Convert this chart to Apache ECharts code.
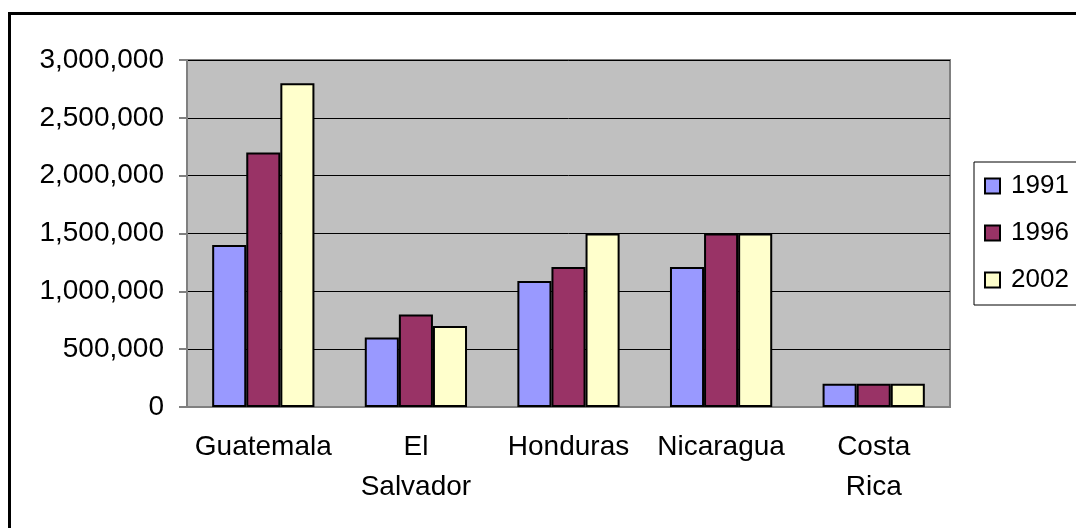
<!DOCTYPE html>
<html>
<head>
<meta charset="utf-8">
<script src="https://cdn.jsdelivr.net/npm/echarts@6/dist/echarts.min.js"></script>
<style>
  html, body { margin: 0; padding: 0; background: #fff; }
  #chart { width: 1076px; height: 528px; }
</style>
</head>
<body>
<div id="chart"></div>
<script>
const countries = ["Guatemala", "El\nSalvador", "Honduras", "Nicaragua", "Costa\nRica"];
const years = ["1991", "1996", "2002"];
const values1991 = [1400000, 600000, 1090000, 1210000, 200000];
const values1996 = [2200000, 800000, 1210000, 1500000, 200000];
const values2002 = [2800000, 700000, 1500000, 1500000, 200000];
const colors = ["#9999ff", "#993366", "#ffffcc"];

const font = "'Liberation Sans', Arial, sans-serif";
const chart = echarts.init(document.getElementById("chart"));

const makeSeries = (name, data, color) => ({
  name: name,
  type: "bar",
  data: data,
  barGap: "0%",
  barCategoryGap: "33%",
  itemStyle: { color: color, borderColor: "#000", borderWidth: 2 }
});

chart.setOption({
  animation: false,
  textStyle: { fontFamily: font, color: "#000" },
  graphic: [{
    type: "rect",
    shape: { x: 9.5, y: 13.5, width: 1200, height: 600 },
    style: { fill: "none", stroke: "#000", lineWidth: 3 },
    silent: true
  }],
  grid: {
    left: 187, right: 126, top: 60, bottom: 121,
    show: true, backgroundColor: "#c0c0c0", borderColor: "#808080", borderWidth: 2
  },
  legend: {
    orient: "vertical",
    left: 974, top: 162,
    padding: [9, 40, 10, 10],
    borderColor: "#000", borderWidth: 1,
    backgroundColor: "#fff",
    icon: "rect",
    itemWidth: 15, itemHeight: 15,
    itemGap: 17,
    itemStyle: { borderColor: "#000", borderWidth: 2 },
    textStyle: { fontFamily: font, fontSize: 26, color: "#000", lineHeight: 30, padding: [0, 0, 0, 6] },
    data: years
  },
  xAxis: {
    type: "category",
    data: countries,
    axisLine: { lineStyle: { color: "#808080", width: 2 } },
    axisTick: { length: 8, lineStyle: { color: "#808080", width: 2 } },
    axisLabel: { interval: 0, fontFamily: font, fontSize: 28, color: "#000", lineHeight: 40, margin: 20 }
  },
  yAxis: {
    type: "value",
    min: 0, max: 3000000, interval: 500000,
    axisLine: { show: true, lineStyle: { color: "#808080", width: 2 } },
    axisTick: { show: true, length: 8, lineStyle: { color: "#808080", width: 2 } },
    splitLine: { lineStyle: { color: "#000", width: 1 } },
    axisLabel: {
      fontFamily: font, fontSize: 28, color: "#000", margin: 23,
      formatter: v => v.toLocaleString("en-US")
    }
  },
  series: [
    makeSeries(years[0], values1991, colors[0]),
    makeSeries(years[1], values1996, colors[1]),
    makeSeries(years[2], values2002, colors[2])
  ]
});
</script>
</body>
</html>
